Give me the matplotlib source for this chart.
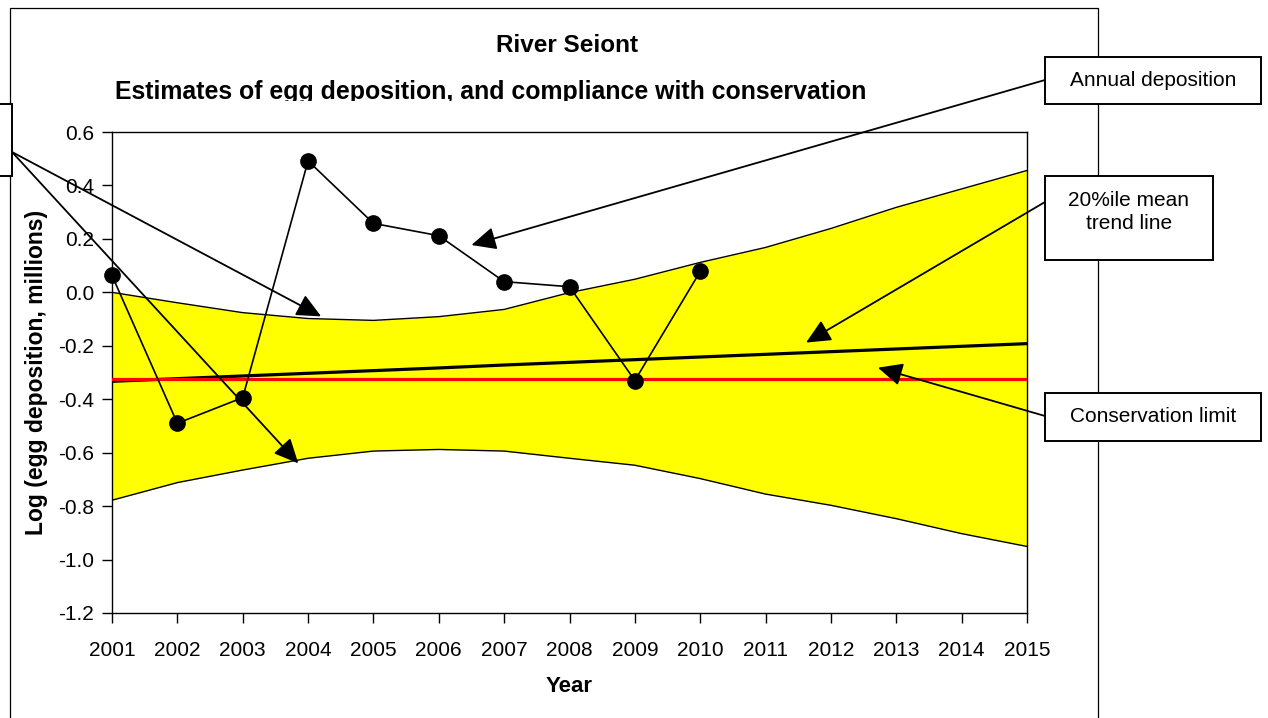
import matplotlib
matplotlib.use('Agg')
import matplotlib.pyplot as plt
from matplotlib.patches import Rectangle
from matplotlib.transforms import Bbox, TransformedBbox

# Chart values
years = list(range(2001, 2016))
deposit_years = list(range(2001, 2011))
annual_deposition = [0.063, -0.490, -0.394, 0.492, 0.258, 0.212, 0.040, 0.021, -0.330, 0.078]
upper_band = [0.000, -0.039, -0.076, -0.098, -0.105, -0.091, -0.064, -0.001, 0.049, 0.112,
              0.168, 0.239, 0.318, 0.387, 0.456]
lower_band = [-0.778, -0.712, -0.665, -0.621, -0.594, -0.588, -0.594, -0.621, -0.647, -0.697,
              -0.755, -0.797, -0.847, -0.903, -0.951]
trend_line = [-0.333, -0.323, -0.313, -0.303, -0.293, -0.283, -0.272, -0.262, -0.252, -0.242,
              -0.232, -0.222, -0.212, -0.202, -0.192]
conservation_limit = -0.325
y_ticks = [0.6, 0.4, 0.2, 0.0, -0.2, -0.4, -0.6, -0.8, -1.0, -1.2]

W, H = 1268, 718

plt.rcParams['font.family'] = ['Liberation Sans', 'DejaVu Sans']
plt.rcParams['axes.unicode_minus'] = False


def fx(x):
    return x / W


def fy(y):
    return 1 - y / H


fig = plt.figure(figsize=(W / 100, H / 100), dpi=100)
fig.patch.set_facecolor('white')

# outer chart frame
fig.add_artist(Rectangle((fx(10), fy(740)), fx(1098) - fx(10), fy(8) - fy(740),
                         transform=fig.transFigure, fill=False, ec='black', lw=0.9, zorder=0.5))

ax = fig.add_axes([fx(112), fy(613), fx(1027) - fx(112), fy(132) - fy(613)])

# band, trend, limit and annual deposition
ax.fill_between(years, lower_band, upper_band, color='#FFFF00', lw=0, zorder=1)
ax.plot(years, upper_band, color='black', lw=1.0, zorder=2)
ax.plot(years, lower_band, color='black', lw=1.0, zorder=2)
ax.plot(years, trend_line, color='black', lw=2.3, zorder=3)
ax.plot(years, [conservation_limit] * len(years), color='#FF0000', lw=2.3, zorder=4)
ax.plot(deposit_years, annual_deposition, color='black', lw=1.2, marker='o', ms=11,
        zorder=5, clip_on=False)

ax.set_xlim(2001, 2015)
ax.set_ylim(-1.2, 0.6)
ax.set_xticks(years)
ax.set_yticks(y_ticks)
ax.set_yticklabels([f'{v:.1f}' for v in y_ticks])
ax.tick_params(axis='both', direction='out', length=7, width=1, labelsize=15)
ax.tick_params(axis='x', pad=13)
ax.tick_params(axis='y', pad=6)
for s in ax.spines.values():
    s.set_linewidth(1.0)
    s.set_color('black')

ax.set_xlabel('Year', fontsize=16, fontweight='bold')
ax.xaxis.set_label_coords(0.5, (613 - 686) / 481)
ax.xaxis.label.set_va('center')
ax.set_ylabel('Log (egg deposition, millions)', fontsize=16.5, fontweight='bold')
ax.yaxis.set_label_coords((36 - 112) / 915, 0.5)
ax.yaxis.label.set_va('center')

# titles
fig.text(fx(567), fy(52), 'River Seiont', ha='center', va='baseline',
         fontsize=17.5, fontweight='bold')
sub = fig.text(fx(115), fy(99), 'Estimates of egg deposition, and compliance with conservation',
               ha='left', va='baseline', fontsize=17.9, fontweight='bold')
sub.set_clip_box(TransformedBbox(Bbox([[0, fy(101)], [1, 1]]), fig.transFigure))
sub.set_clip_on(True)

# callout arrows (tip on data, tail at box edge in figure pixels)
arrows = [
    ((2004.2, -0.09), (12, 152)),
    ((2003.85, -0.64), (12, 152)),
    ((2006.5, 0.177), (1045, 80)),
    ((2011.62, -0.188), (1045, 202)),
    ((2012.72, -0.282), (1045, 416)),
]
for tip, tail in arrows:
    ax.annotate('', xy=tip, xycoords='data', xytext=(tail[0], H - tail[1]),
                textcoords='figure pixels', annotation_clip=False,
                arrowprops=dict(arrowstyle='-|>,head_length=0.75,head_width=0.35',
                                color='black', lw=1.3, shrinkA=0, shrinkB=0,
                                mutation_scale=20),
                zorder=10)

# callout boxes: edges, label and label centre
boxes = [
    (-10, 104, 12, 176, '', 140),
    (1045, 57, 1261, 104, 'Annual deposition', 80),
    (1045, 176, 1213, 260, '20%ile mean\ntrend line', 212),
    (1045, 393, 1261, 441, 'Conservation limit', 417),
]
for x0, y0, x1, y1, label, ty in boxes:
    fig.add_artist(Rectangle((fx(x0), fy(y1)), fx(x1) - fx(x0), fy(y0) - fy(y1),
                             transform=fig.transFigure, fc='white', ec='black',
                             lw=1.4, zorder=5))
    if label:
        fig.text(fx((x0 + x1) / 2), fy(ty), label, ha='center', va='center',
                 fontsize=15, linespacing=1.3, zorder=6)

fig.savefig('out.png', dpi=100)
